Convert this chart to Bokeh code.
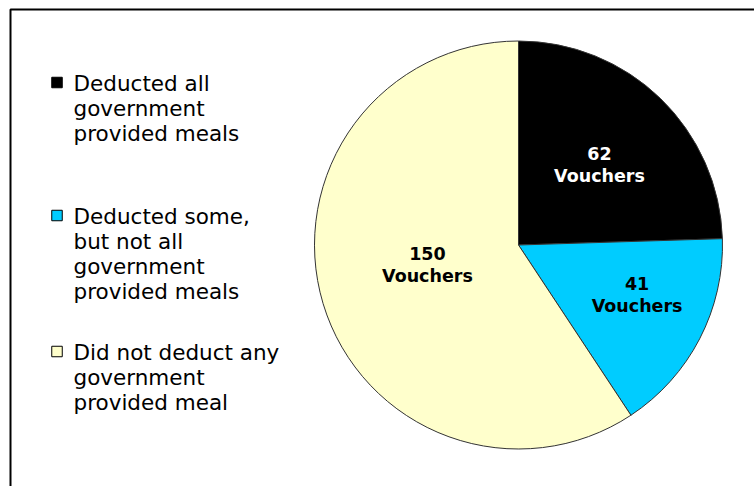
import numpy as np
from bokeh.plotting import figure
from bokeh.models import ColumnDataSource, Range1d, BoxAnnotation
from bokeh.core.properties import value
from bokeh.embed import file_html
from bokeh.resources import INLINE

# ---- data ----
legend_labels = [
    "Deducted all\ngovernment\nprovided meals",
    "Deducted some,\nbut not all\ngovernment\nprovided meals",
    "Did not deduct any\ngovernment\nprovided meal",
]
vouchers = [62, 41, 150]
unit_label = "Vouchers"
slice_colors = ["#000000", "#00CCFF", "#FFFFCC"]
label_colors = ["#FFFFFF", "#000000", "#000000"]

# ---- layout constants ----
W, H = 754, 486
CX, CY, R = 518, 241.5, 204
LABEL_R = [113.2, 129.3, 93.4]    # distance of label centre from pie centre
LABEL_DX = [2.2, 3.8, -1.6]       # small nudges (px)
LABEL_DY = [-2.3, 8.2, 5.7]
LAB_LINE = 22.5
LEG_X_BOX, LEG_X_TXT = 56.5, 73
LEG_BASE = [403, 270, 134]        # first-line baseline (data y)
LEG_LINE = 25
FONT = "DejaVu Sans"

p = figure(width=W, height=H, output_backend="svg", toolbar_location=None,
           x_range=Range1d(0, W), y_range=Range1d(0, H), min_border=0,
           tools="")
p.axis.visible = False
p.grid.visible = False
p.outline_line_color = None
p.background_fill_color = "white"
p.border_fill_color = "white"

# chart-area frame (right/bottom edges fall outside the window)
p.add_layout(BoxAnnotation(left=10, top=H - 9, right=W + 20, bottom=-20,
                           fill_alpha=0, line_color="black", line_alpha=1.0,
                           line_width=2, level="underlay"))

# ---- pie ----
vals = np.array(vouchers, dtype=float)
frac = vals / vals.sum()
cum = np.concatenate([[0], np.cumsum(frac)])
starts = np.pi / 2 - cum[:-1] * 2 * np.pi
ends = np.pi / 2 - cum[1:] * 2 * np.pi
mids = (starts + ends) / 2

src = ColumnDataSource(dict(start=starts, end=ends, color=slice_colors))
p.wedge(x=CX, y=CY, radius=R, start_angle="start", end_angle="end",
        direction="clock", fill_color="color", line_color="#333333",
        line_width=1, source=src)

lx = CX + np.array(LABEL_R) * np.cos(mids) + np.array(LABEL_DX)
ly = CY + np.array(LABEL_R) * np.sin(mids) + np.array(LABEL_DY)
xs, ys, ts, cs = [], [], [], []
for x, y, v, c in zip(lx, ly, vouchers, label_colors):
    xs += [x, x]
    ys += [y + 12.5, y + 12.5 - LAB_LINE]
    ts += [str(v), unit_label]
    cs += [c, c]
p.text(x=xs, y=ys, text=ts, text_color=cs,
       text_align="center", text_baseline="alphabetic",
       text_font=value(FONT), text_font_style="bold",
       text_font_size="17.5px")

# ---- legend (manual) ----
box_y = [b + 1 for b in LEG_BASE]
p.rect(x=[LEG_X_BOX] * 3, y=box_y, width=10.5, height=10.5,
       width_units="screen", height_units="screen",
       fill_color=slice_colors, line_color="black", line_width=1)

tx, ty, tt = [], [], []
for base, lab in zip(LEG_BASE, legend_labels):
    for i, line in enumerate(lab.split("\n")):
        tx.append(LEG_X_TXT)
        ty.append(base - i * LEG_LINE)
        tt.append(line)
p.text(x=tx, y=ty, text=tt, text_color="black", text_align="left",
       text_baseline="alphabetic", text_font=value(FONT),
       text_font_size="21.5px")

open("out.html", "w").write(file_html(p, INLINE))
